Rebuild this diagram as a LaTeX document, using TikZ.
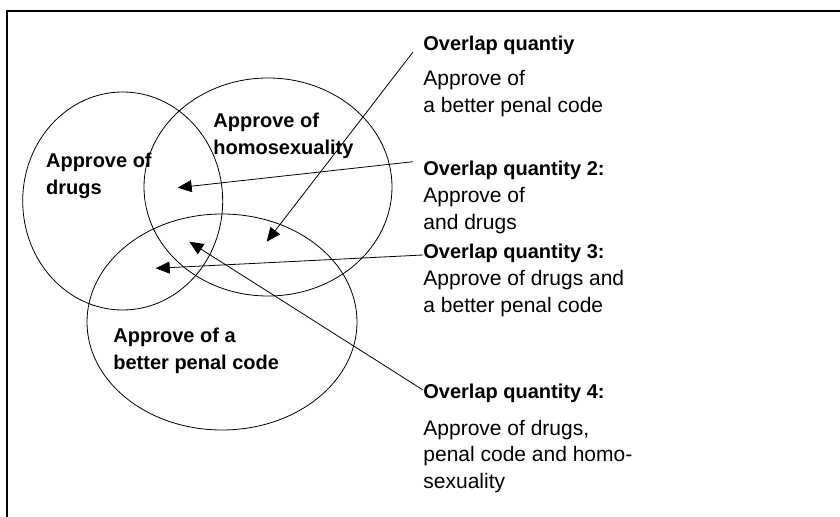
\documentclass[tikz,border=0pt]{standalone}
\usepackage{fontspec}
\setmainfont{Liberation Sans}
\usetikzlibrary{shapes.geometric,arrows.meta}
\tikzset{
  setbox/.style={draw, ellipse, line width=0.4pt, inner sep=0pt},
  setlabel/.style={anchor=base west, align=left, inner sep=0pt, font=\fontsize{10}{13.5}\selectfont\bfseries},
  quantity/.style={anchor=base west, align=left, inner sep=0pt, font=\fontsize{10.5}{13.5}\selectfont},
  pointer/.style={line width=0.4pt, -{Triangle[length=7pt,width=6pt]}}
}
\newcommand{\qhead}[1]{{\fontsize{10}{13.5}\selectfont\bfseries #1}}
\begin{document}
\begin{tikzpicture}[x=0.5pt,y=-0.5pt]
\useasboundingbox (0,0) rectangle (840,517);
% frame
\draw[line width=1.1pt] (7,530) -- (7,11) -- (850,11);
% the three sets
\node[setbox, minimum width=100pt, minimum height=109pt] (drugs) at (122.7,201) {};
\node[setbox, minimum width=124pt, minimum height=109pt] (homo) at (268,187) {};
\node[setbox, minimum width=135pt, minimum height=108pt] (penal) at (222,322) {};
% labels sit on their last line
\node[setlabel] (ldrugs) at (45.7,195) {Approve of\\drugs};
\node[setlabel] (lhomo) at (213,155) {Approve of\\homosexuality};
\node[setlabel] (lpenal) at (113,370) {Approve of a\\better penal code};
% overlap texts
\node[quantity] (q1) at (423,113) {\qhead{Overlap quantiy}\\[4pt]Approve of\\a better penal code};
\node[quantity] (q2) at (423,230) {\qhead{Overlap quantity 2:}\\Approve of\\and drugs};
\node[quantity] (q3) at (423,313) {\qhead{Overlap quantity 3:}\\Approve of drugs and\\a better penal code};
\node[quantity] (q4) at (423,489) {\qhead{Overlap quantity 4:}\\[4.5pt]Approve of drugs,\\penal code and homo-\\sexuality};
% pointer ends
\coordinate (s1) at (413,52);    \coordinate (t1) at (266.7,241.7);
\coordinate (s2) at (413,161.7); \coordinate (t2) at (177.7,187.7);
\coordinate (s3) at (423,255);   \coordinate (t3) at (155.7,268.3);
\coordinate (s4) at (423,390);   \coordinate (t4) at (189.3,241.7);
\foreach \i in {1,...,4}
  \draw[pointer] (s\i) -- (t\i);
\end{tikzpicture}
\end{document}
